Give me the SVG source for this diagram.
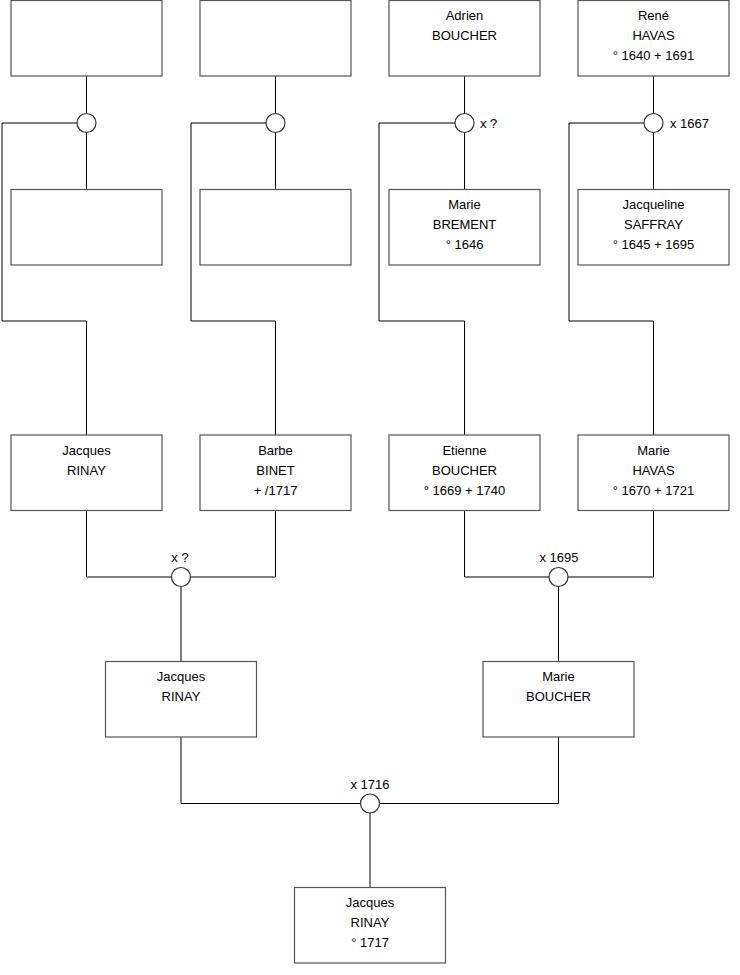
<svg xmlns="http://www.w3.org/2000/svg" width="740" height="975" viewBox="0 0 740 975">
<style>
.box{fill:#fff;stroke:#555;stroke-width:1.2}
.c{fill:#fff;stroke:#333;stroke-width:1.2}
.ln{fill:none;stroke:#000;stroke-width:1}
text{font-family:"Liberation Sans",Arial,sans-serif;font-size:13px;fill:#000}
.m{text-anchor:middle}
</style>
<rect width="740" height="975" fill="#fff"/>
<g id="connectors">
<path class="ln" d="M86.5 76V113.5M86.5 132.5V189M77 123H2V321H86.5V435"/>
<path class="ln" d="M275.5 76V113.5M275.5 132.5V189M266 123H191V321H275.5V435"/>
<path class="ln" d="M464.5 76V113.5M464.5 132.5V189M455 123H379V321H464.5V435"/>
<path class="ln" d="M653.5 76V113.5M653.5 132.5V189M644 123H569V321H653.5V435"/>
<path class="ln" d="M86.5 510V577H171.5M190.5 577H275.5V510M181 586.5V661"/>
<path class="ln" d="M464.5 510V577H549M568 577H653.5V510M558.5 586.5V661"/>
<path class="ln" d="M181 737V803.5H360.5M379.5 803.5H558.5V737M370 813V887"/>
</g>
<g id="unions">
<circle class="c" cx="86.5" cy="123" r="9.5"/>
<circle class="c" cx="275.5" cy="123" r="9.5"/>
<circle class="c" cx="464.5" cy="123" r="9.5"/>
<text x="480" y="128">x ?</text>
<circle class="c" cx="653.5" cy="123" r="9.5"/>
<text x="670" y="128">x 1667</text>
<circle class="c" cx="181" cy="577" r="9.5"/>
<text class="m" x="180" y="562">x ?</text>
<circle class="c" cx="558.5" cy="577" r="9.5"/>
<text class="m" x="559" y="562">x 1695</text>
<circle class="c" cx="370" cy="803.5" r="9.5"/>
<text class="m" x="370" y="789">x 1716</text>
</g>
<g id="n1"><rect class="box" x="11" y="0.5" width="151" height="75.5"/></g>
<g id="n2"><rect class="box" x="200" y="0.5" width="151" height="75.5"/></g>
<g id="n3"><rect class="box" x="389" y="0.5" width="151" height="75.5"/><text class="m" x="464.5" y="20">Adrien</text><text class="m" x="464.5" y="40">BOUCHER</text></g>
<g id="n4"><rect class="box" x="578" y="0.5" width="151" height="75.5"/><text class="m" x="653.5" y="20">René</text><text class="m" x="653.5" y="40">HAVAS</text><text class="m" x="653.5" y="60">° 1640 + 1691</text></g>
<g id="n5"><rect class="box" x="11" y="189.5" width="151" height="75.5"/></g>
<g id="n6"><rect class="box" x="200" y="189.5" width="151" height="75.5"/></g>
<g id="n7"><rect class="box" x="389" y="189.5" width="151" height="75.5"/><text class="m" x="464.5" y="209">Marie</text><text class="m" x="464.5" y="229">BREMENT</text><text class="m" x="464.5" y="249">° 1646</text></g>
<g id="n8"><rect class="box" x="578" y="189.5" width="151" height="75.5"/><text class="m" x="653.5" y="209">Jacqueline</text><text class="m" x="653.5" y="229">SAFFRAY</text><text class="m" x="653.5" y="249">° 1645 + 1695</text></g>
<g id="n9"><rect class="box" x="11" y="435" width="151" height="75.5"/><text class="m" x="86.5" y="455">Jacques</text><text class="m" x="86.5" y="475">RINAY</text></g>
<g id="n10"><rect class="box" x="200" y="435" width="151" height="75.5"/><text class="m" x="275.5" y="455">Barbe</text><text class="m" x="275.5" y="475">BINET</text><text class="m" x="275.5" y="495">+ /1717</text></g>
<g id="n11"><rect class="box" x="389" y="435" width="151" height="75.5"/><text class="m" x="464.5" y="455">Etienne</text><text class="m" x="464.5" y="475">BOUCHER</text><text class="m" x="464.5" y="495">° 1669 + 1740</text></g>
<g id="n12"><rect class="box" x="578" y="435" width="151" height="75.5"/><text class="m" x="653.5" y="455">Marie</text><text class="m" x="653.5" y="475">HAVAS</text><text class="m" x="653.5" y="495">° 1670 + 1721</text></g>
<g id="n13"><rect class="box" x="105.5" y="661.5" width="151" height="75.5"/><text class="m" x="181" y="681">Jacques</text><text class="m" x="181" y="701">RINAY</text></g>
<g id="n14"><rect class="box" x="483" y="661.5" width="151" height="75.5"/><text class="m" x="558.5" y="681">Marie</text><text class="m" x="558.5" y="701">BOUCHER</text></g>
<g id="n15"><rect class="box" x="294.5" y="887.5" width="151" height="75.5"/><text class="m" x="370" y="907">Jacques</text><text class="m" x="370" y="927">RINAY</text><text class="m" x="370" y="947">° 1717</text></g>
</svg>
